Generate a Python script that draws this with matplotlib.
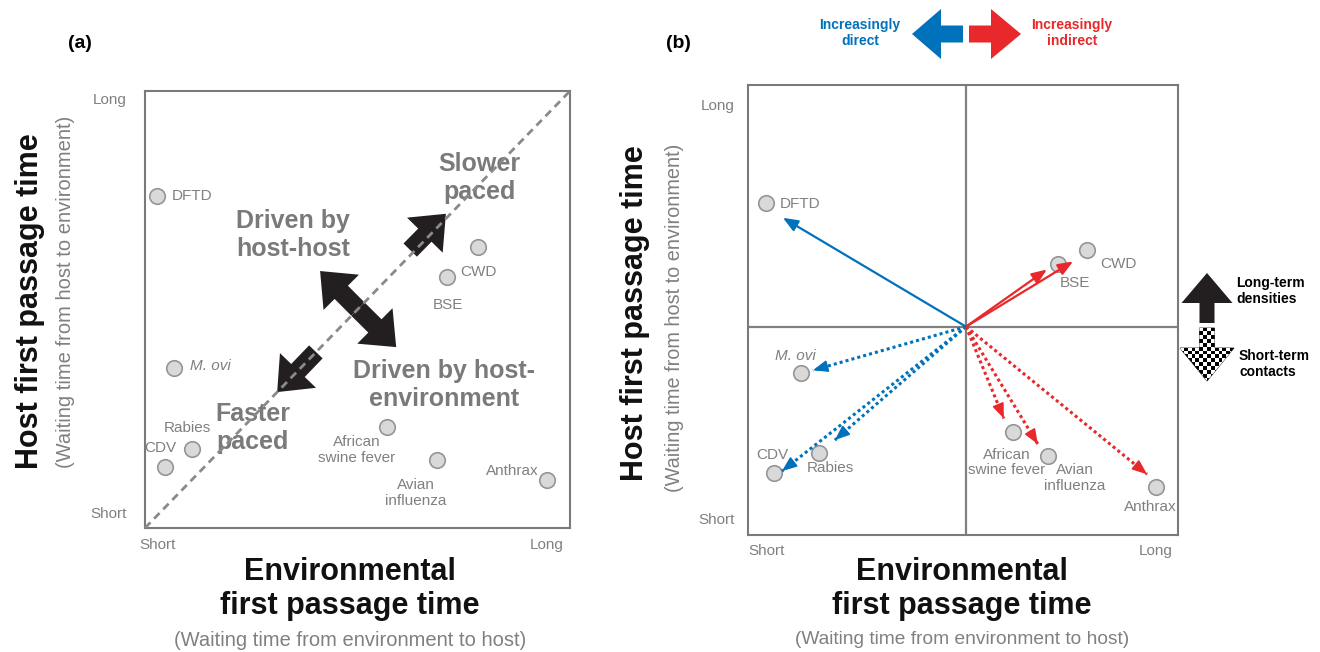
import numpy as np
import matplotlib
matplotlib.use('Agg')
import matplotlib.pyplot as plt
from matplotlib.patches import Polygon

plt.rcParams['font.family'] = ['Liberation Sans', 'DejaVu Sans']

# ------------------------------------------------------------------ data
diseases = ['DFTD', 'CWD', 'BSE', 'M. ovi', 'Rabies', 'CDV',
            'African\nswine fever', 'Avian\ninfluenza', 'Anthrax']

# panel (a): position in (environmental FPT, host FPT) space, 0 = short, 1 = long
env_a = [0.028, 0.784, 0.711, 0.068, 0.111, 0.047, 0.569, 0.687, 0.946]
host_a = [0.760, 0.643, 0.574, 0.366, 0.181, 0.140, 0.231, 0.156, 0.110]

# panel (b): positions and arrow tips (arrows start at the centre point)
env_b = [0.042, 0.788, 0.721, 0.123, 0.165, 0.060, 0.616, 0.698, 0.949]
host_b = [0.738, 0.634, 0.603, 0.359, 0.182, 0.137, 0.228, 0.175, 0.106]
tip_env = [0.081, 0.756, 0.695, 0.151, 0.202, 0.079, 0.595, 0.674, 0.928]
tip_host = [0.705, 0.608, 0.590, 0.366, 0.211, 0.142, 0.259, 0.202, 0.135]
mechanism = ['density', 'density', 'density', 'contact', 'contact',
             'contact', 'contact', 'contact', 'contact']
centre_b = (0.507, 0.463)

# ------------------------------------------------------------------ style
GREY = '#808080'
DARK = '#231f20'
BLUE = '#0072bc'
RED = '#e8282a'
CIRC_FC = '#d9d9d9'
CIRC_EC = '#959595'

# label offsets (pixels) and alignment for each disease label
lab_a = [((15, 0), 'left'), ((-18, -25), 'left'), ((1, -28), 'center'),
         ((16, 2), 'left'), ((-5, 21), 'center'), ((-5, 19), 'center'),
         ((-30, -23), 'center'), ((-21, -33), 'center'), ((-35, 9), 'center')]
lab_b = [((14, -1), 'left'), ((13, -14), 'left'), ((17, -19), 'center'),
         ((-6, 17), 'center'), ((11, -15), 'center'), ((-1, 18), 'center'),
         ((-6, -30), 'center'), ((27, -22), 'center'), ((-6, -20), 'center')]

W, H = 1320, 652
fig = plt.figure(figsize=(W / 100, H / 100), dpi=100)

# overlay axes in image-pixel coordinates for decoration outside the panels
ov = fig.add_axes([0, 0, 1, 1])
ov.set_xlim(0, W)
ov.set_ylim(H, 0)
ov.axis('off')

ax_a = fig.add_axes([145 / W, (H - 528) / H, 425 / W, 437 / H])
ax_b = fig.add_axes([748 / W, (H - 535) / H, 430 / W, 450 / H])

for ax in (ax_a, ax_b):
    ax.set_xlim(0, 1)
    ax.set_ylim(0, 1)
    ax.set_xticks([])
    ax.set_yticks([])
    ax.set_facecolor('none')
    for sp in ax.spines.values():
        sp.set_color('#7a7a7a')
        sp.set_linewidth(1.5)


def draw_points(ax, xs, ys, labs):
    ax.scatter(xs, ys, s=125, facecolor=CIRC_FC, edgecolor=CIRC_EC,
               linewidth=1.2, zorder=3, clip_on=False)
    for name, x, y, ((dx, dy), ha) in zip(diseases, xs, ys, labs):
        ax.annotate(name, xy=(x, y), xytext=(dx, dy), textcoords='offset pixels',
                    ha=ha, va='center', fontsize=11, color=GREY,
                    style='italic' if name == 'M. ovi' else 'normal',
                    linespacing=1.15, zorder=5)


# ------------------------------------------------------------------ panel (a)
draw_points(ax_a, env_a, host_a, lab_a)


def fat_arrow(ax, start, end):
    ax.annotate('', xy=end, xytext=start,
                arrowprops=dict(arrowstyle='simple,head_length=2.16,head_width=3.6,tail_width=1.35',
                                mutation_scale=10, fc=DARK, ec='none',
                                shrinkA=0, shrinkB=0), zorder=4)


fat_arrow(ax_a, (0.624, 0.636), (0.708, 0.719))   # slower paced
fat_arrow(ax_a, (0.402, 0.403), (0.311, 0.311))   # faster paced
fat_arrow(ax_a, (0.501, 0.501), (0.412, 0.588))   # host-host
fat_arrow(ax_a, (0.501, 0.501), (0.591, 0.414))   # host-environment

big = dict(fontsize=18, fontweight='bold', color='#7a7a7a', ha='center',
           va='center', linespacing=1.2, zorder=6)
ax_a.text(0.786, 0.801, 'Slower\npaced', **big)
ax_a.text(0.348, 0.670, 'Driven by\nhost-host', **big)
ax_a.text(0.704, 0.327, 'Driven by host-\nenvironment', **big)
ax_a.text(0.254, 0.229, 'Faster\npaced', **big)

ax_a.plot([0, 1], [0, 1], color='#8a8a8a', lw=2, ls=(0, (2.8, 1.9)), zorder=7,
          clip_on=False)

# ------------------------------------------------------------------ panel (b)
ax_b.axvline(centre_b[0], color='#808080', lw=1.6, zorder=1)
ax_b.axhline(centre_b[1], color='#808080', lw=1.6, zorder=1)
draw_points(ax_b, env_b, host_b, lab_b)

cx, cy = centre_b
for tx, ty, mech in zip(tip_env, tip_host, mechanism):
    col = BLUE if tx < cx else RED
    if mech == 'density':
        ax_b.annotate('', xy=(tx, ty), xytext=(cx, cy),
                      arrowprops=dict(arrowstyle='-|>,head_length=0.9,head_width=0.36',
                                      color=col, lw=1.6, shrinkA=0, shrinkB=0),
                      zorder=4)
    else:
        ax_b.plot([cx, tx], [cy, ty], color=col, lw=2.2, ls=(0, (1, 1)),
                  dash_capstyle='butt', zorder=4)
        d = np.array([tx - cx, ty - cy])
        u = d / np.hypot(*d)
        back = (tx - 0.03 * u[0], ty - 0.03 * u[1])
        ax_b.annotate('', xy=(tx, ty), xytext=back,
                      arrowprops=dict(arrowstyle='-|>,head_length=0.9,head_width=0.36',
                                      color=col, lw=1.2, shrinkA=0, shrinkB=0),
                      zorder=4)

# ------------------------------------------------------------------ decoration


def block_arrow(ax, tail, tip, tail_w, head_w, head_l, **kw):
    tail = np.asarray(tail, float)
    tip = np.asarray(tip, float)
    d = tip - tail
    u = d / np.hypot(*d)
    n = np.array([-u[1], u[0]])
    base = tip - u * head_l
    pts = [tail + n * tail_w / 2, base + n * tail_w / 2, base + n * head_w / 2,
           tip, base - n * head_w / 2, base - n * tail_w / 2, tail - n * tail_w / 2]
    p = Polygon(pts, closed=True, **kw)
    ax.add_patch(p)
    return p


# direct / indirect arrows
block_arrow(ov, (963, 34), (912, 34), 17, 50, 29, fc=BLUE, ec='none')
block_arrow(ov, (969, 34), (1021, 34), 17, 50, 30, fc=RED, ec='none')
ov.text(860, 33, 'Increasingly\ndirect', color=BLUE, fontsize=10,
        fontweight='bold', ha='center', va='center', linespacing=1.25)
ov.text(1072, 33, 'Increasingly\nindirect', color=RED, fontsize=10,
        fontweight='bold', ha='center', va='center', linespacing=1.25)

# long-term / short-term arrows
block_arrow(ov, (1207, 323), (1207, 273), 15, 51, 30, fc=DARK, ec='none')
down = block_arrow(ov, (1207, 328), (1207, 381), 15, 54, 33, fc='white',
                   ec=DARK, lw=0.6)
board = (np.indices((14, 14)).sum(axis=0) % 2).astype(float)
im = ov.imshow(board, cmap='gray', extent=(1180, 1234, 382, 327),
               interpolation='nearest', aspect='auto', zorder=2)
im.set_clip_path(down)
ov.set_xlim(0, W)
ov.set_ylim(H, 0)
ov.text(1236, 291, 'Long-term\ndensities', fontsize=10, fontweight='bold',
        ha='left', va='center', color='black', linespacing=1.25)
ov.text(1239, 364, 'Short-term\ncontacts', fontsize=10, fontweight='bold',
        ha='left', va='center', color='black', linespacing=1.25)

# panel letters
ov.text(80, 43, '(a)', fontsize=14, fontweight='bold', ha='center', va='center')
ov.text(678, 43, '(b)', fontsize=14, fontweight='bold', ha='center', va='center')

# Long / Short ends
small = dict(fontsize=11, color=GREY, ha='center', va='center')
ov.text(110, 100, 'Long', **small)
ov.text(109, 514, 'Short', **small)
ov.text(158, 545, 'Short', **small)
ov.text(547, 545, 'Long', **small)
ov.text(718, 106, 'Long', **small)
ov.text(717, 520, 'Short', **small)
ov.text(767, 551, 'Short', **small)
ov.text(1156, 551, 'Long', **small)

# axis titles
title = dict(fontsize=22, fontweight='bold', color='#111111', ha='center',
             va='center', linespacing=1.2)
ov.text(30, 301, 'Host first passage time', rotation=90, **title)
ov.text(66, 292, '(Waiting time from host to environment)', rotation=90,
        fontsize=14.5, color=GREY, ha='center', va='center')
ov.text(350, 589, 'Environmental\nfirst passage time', **title)
ov.text(350, 640, '(Waiting time from environment to host)', fontsize=14.5,
        color=GREY, ha='center', va='center')

ov.text(635, 313, 'Host first passage time', rotation=90, **title)
ov.text(674, 318, '(Waiting time from host to environment)', rotation=90,
        fontsize=14.3, color=GREY, ha='center', va='center')
ov.text(962, 589, 'Environmental\nfirst passage time', **title)
ov.text(962, 639, '(Waiting time from environment to host)', fontsize=13.8,
        color=GREY, ha='center', va='center')

fig.savefig('out.png', dpi=100)
